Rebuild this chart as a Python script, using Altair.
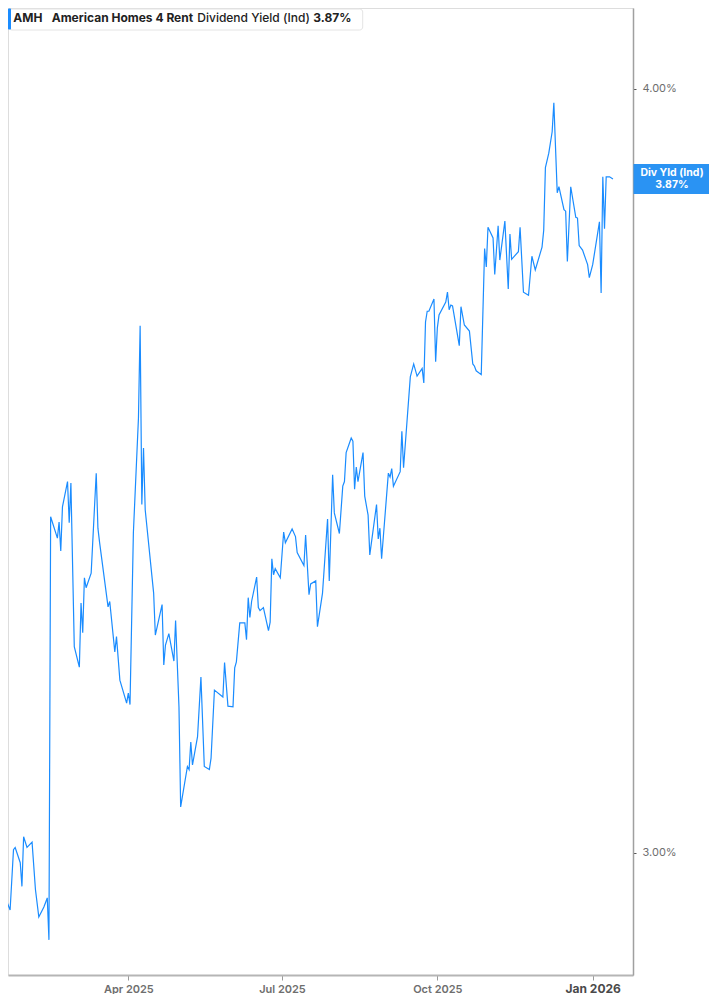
import altair as alt
import pandas as pd

# ---- data ----
dates = [
    "2025-01-15", "2025-01-17", "2025-01-21", "2025-01-23", "2025-01-24", "2025-01-27", "2025-01-28",
    "2025-01-29", "2025-01-31", "2025-02-03", "2025-02-05", "2025-02-07", "2025-02-10", "2025-02-11",
    "2025-02-12", "2025-02-13", "2025-02-14", "2025-02-18", "2025-02-19", "2025-02-20", "2025-02-21",
    "2025-02-24", "2025-02-25", "2025-02-26", "2025-02-28", "2025-03-03", "2025-03-04", "2025-03-05",
    "2025-03-06", "2025-03-07", "2025-03-10", "2025-03-13", "2025-03-14", "2025-03-15", "2025-03-20",
    "2025-03-21", "2025-03-24", "2025-03-25", "2025-03-27", "2025-03-31", "2025-04-01", "2025-04-02",
    "2025-04-04", "2025-04-07", "2025-04-08", "2025-04-09", "2025-04-10", "2025-04-11", "2025-04-16",
    "2025-04-17", "2025-04-21", "2025-04-22", "2025-04-23", "2025-04-25", "2025-04-28", "2025-04-29",
    "2025-05-01", "2025-05-02", "2025-05-06", "2025-05-07", "2025-05-08", "2025-05-09", "2025-05-12",
    "2025-05-14", "2025-05-16", "2025-05-19", "2025-05-20", "2025-05-22", "2025-05-27", "2025-05-28",
    "2025-05-30", "2025-06-02", "2025-06-03", "2025-06-04", "2025-06-06", "2025-06-09", "2025-06-10",
    "2025-06-11", "2025-06-12", "2025-06-13", "2025-06-16", "2025-06-17", "2025-06-18", "2025-06-20",
    "2025-06-23", "2025-06-24", "2025-06-25", "2025-06-26", "2025-06-27", "2025-06-30", "2025-07-02",
    "2025-07-03", "2025-07-07", "2025-07-09", "2025-07-10", "2025-07-14", "2025-07-15", "2025-07-17",
    "2025-07-18", "2025-07-21", "2025-07-22", "2025-07-25", "2025-07-28", "2025-07-29", "2025-07-31",
    "2025-08-01", "2025-08-04", "2025-08-06", "2025-08-07", "2025-08-08", "2025-08-11", "2025-08-12",
    "2025-08-13", "2025-08-14", "2025-08-15", "2025-08-18", "2025-08-19", "2025-08-21", "2025-08-22",
    "2025-08-26", "2025-08-27", "2025-08-28", "2025-08-29", "2025-09-02", "2025-09-03", "2025-09-04",
    "2025-09-05", "2025-09-09", "2025-09-10", "2025-09-11", "2025-09-15", "2025-09-17", "2025-09-19",
    "2025-09-22", "2025-09-23", "2025-09-24", "2025-09-25", "2025-09-26", "2025-09-29", "2025-09-30",
    "2025-10-01", "2025-10-02", "2025-10-06", "2025-10-07", "2025-10-08", "2025-10-09", "2025-10-10",
    "2025-10-14", "2025-10-15", "2025-10-17", "2025-10-20", "2025-10-22", "2025-10-23", "2025-10-24",
    "2025-10-27", "2025-10-29", "2025-10-30", "2025-10-31", "2025-11-03", "2025-11-04", "2025-11-06",
    "2025-11-07", "2025-11-10", "2025-11-12", "2025-11-13", "2025-11-14", "2025-11-18", "2025-11-19",
    "2025-11-21", "2025-11-24", "2025-11-26", "2025-11-28", "2025-12-02", "2025-12-03", "2025-12-04",
    "2025-12-06", "2025-12-08", "2025-12-09", "2025-12-11", "2025-12-12", "2025-12-15", "2025-12-16",
    "2025-12-17", "2025-12-19", "2025-12-22", "2025-12-23", "2025-12-24", "2025-12-26", "2025-12-29",
    "2025-12-30", "2026-01-01", "2026-01-05", "2026-01-06", "2026-01-07", "2026-01-08", "2026-01-09",
    "2026-01-11", "2026-01-13",
]
yields = [
    3.026, 2.948, 2.925, 3.004, 3.007, 2.987, 2.956,
    3.021, 3.007, 3.014, 2.952, 2.916, 2.929, 2.935,
    2.941, 2.886, 3.440, 3.412, 3.433, 3.395, 3.453,
    3.486, 3.432, 3.484, 3.270, 3.243, 3.327, 3.288,
    3.360, 3.347, 3.366, 3.497, 3.425, 3.406, 3.322,
    3.329, 3.263, 3.283, 3.226, 3.196, 3.209, 3.194,
    3.419, 3.569, 3.690, 3.456, 3.530, 3.449, 3.340,
    3.285, 3.325, 3.246, 3.272, 3.287, 3.251, 3.304,
    3.191, 3.060, 3.113, 3.109, 3.145, 3.115, 3.152,
    3.230, 3.113, 3.109, 3.124, 3.213, 3.204, 3.249,
    3.192, 3.191, 3.242, 3.250, 3.301, 3.301, 3.279,
    3.334, 3.308, 3.329, 3.361, 3.321, 3.317, 3.321,
    3.291, 3.302, 3.385, 3.364, 3.372, 3.360, 3.420,
    3.406, 3.424, 3.414, 3.393, 3.376, 3.416, 3.338,
    3.352, 3.356, 3.296, 3.340, 3.437, 3.356, 3.495,
    3.445, 3.418, 3.480, 3.486, 3.524, 3.543, 3.539,
    3.476, 3.505, 3.486, 3.524, 3.467, 3.442, 3.390,
    3.456, 3.411, 3.425, 3.385, 3.497, 3.492, 3.503,
    3.480, 3.499, 3.552, 3.504, 3.623, 3.640, 3.624,
    3.634, 3.615, 3.695, 3.709, 3.709, 3.725, 3.643,
    3.687, 3.704, 3.721, 3.734, 3.711, 3.717, 3.716,
    3.664, 3.715, 3.691, 3.683, 3.640, 3.637, 3.631,
    3.626, 3.791, 3.767, 3.819, 3.805, 3.757, 3.821,
    3.776, 3.827, 3.738, 3.810, 3.777, 3.787, 3.819,
    3.734, 3.730, 3.781, 3.763, 3.793, 3.815, 3.897,
    3.916, 3.944, 3.982, 3.864, 3.872, 3.842, 3.840,
    3.774, 3.872, 3.832, 3.831, 3.795, 3.789, 3.770,
    3.753, 3.770, 3.826, 3.733, 3.885, 3.817, 3.885,
    3.885, 3.882,
]

ticker = "AMH"
company = "American Homes 4 Rent"
metric = "Dividend Yield (Ind)"
current_label = "3.87%"
box_title = "Div Yld (Ind)"

y_ticks = [3.0, 4.0]
x_ticks = [(2025, 4), (2025, 7), (2025, 10), (2026, 1)]

LINE = "#1a8cff"
BOX = "#2a93f3"
FONT = "Inter"

df = pd.DataFrame({"date": dates, "yield": yields})
last = df.tail(1)
one = pd.DataFrame({"k": [0]})

W, H = 625, 967
Y_DOMAIN = [2.840, 4.106]
BOX_HALF = 15 * (Y_DOMAIN[1] - Y_DOMAIN[0]) / H   # half box height (15 px) in data units

x_scale = alt.Scale(
    type="utc",
    domain=[alt.DateTime(year=2025, month=1, date=19, hours=18, utc=True),
            alt.DateTime(year=2026, month=1, date=24, hours=21, utc=True)],
)
y_scale = alt.Scale(domain=Y_DOMAIN, nice=False, zero=False)

x_axis = alt.Axis(
    title=None,
    values=[alt.DateTime(year=y, month=m, date=1, utc=True) for y, m in x_ticks],
    labelExpr="utcFormat(datum.value, '%b %Y')",
    grid=False,
    domainColor="#b5b5b5",
    domainWidth=2,
    tickColor="#9a9a9a",
    tickSize=5,
    labelPadding=3,
    labelFont=FONT,
    labelFontSize={"condition": {"test": "utcmonth(datum.value) == 0", "value": 12}, "value": 11},
    labelFontWeight={"condition": {"test": "utcmonth(datum.value) == 0", "value": 700}, "value": 600},
    labelColor={"condition": {"test": "utcmonth(datum.value) == 0", "value": "#4a4a4a"}, "value": "#6e6e6e"},
    labelFlush=False,
)
y_axis = alt.Axis(
    title=None,
    orient="right",
    values=y_ticks,
    labelExpr="format(datum.value, '.2f') + '%'",
    grid=False,
    domainColor="#a0a0a0",
    domainWidth=1.5,
    tickColor="#555555",
    tickSize=3,
    labelPadding=6,
    labelFont=FONT,
    labelFontSize=11,
    labelColor="#6e6e6e",
)

line = alt.Chart(df).mark_line(color=LINE, strokeWidth=1.2, clip=True).encode(
    x=alt.X("date:T", scale=x_scale, axis=x_axis),
    y=alt.Y("yield:Q", scale=y_scale, axis=y_axis),
)

# current-value box on the right axis
box = alt.Chart(last).transform_calculate(
    y_top=f"datum['yield'] + {BOX_HALF}", y_bot=f"datum['yield'] - {BOX_HALF}"
).mark_rect(color=BOX).encode(
    x=alt.value(625.5), x2=alt.value(701),
    y=alt.Y("y_top:Q", scale=y_scale, axis=y_axis), y2="y_bot:Q",
)
box_t1 = alt.Chart(last).mark_text(
    color="white", font=FONT, fontSize=10.5, fontWeight="bold", dy=-6, align="center", baseline="middle"
).encode(x=alt.value(664), y="yield:Q", text=alt.value(box_title))
box_t2 = alt.Chart(last).mark_text(
    color="white", font=FONT, fontSize=10.5, fontWeight="bold", dy=6, align="center", baseline="middle"
).encode(x=alt.value(664), y="yield:Q", text=alt.value(current_label))

# header legend box
hdr_box = alt.Chart(one).mark_rect(fill="white", stroke="#e4e4e4", strokeWidth=1, cornerRadius=3).encode(
    x=alt.value(1), x2=alt.value(354.7), y=alt.value(1), y2=alt.value(22)
)
hdr_bar = alt.Chart(one).mark_rect(fill=LINE, cornerRadius=1).encode(
    x=alt.value(0), x2=alt.value(3), y=alt.value(0.5), y2=alt.value(21.5)
)


def hdr_text(txt, x, weight):
    return alt.Chart(one).mark_text(
        align="left", baseline="middle", font=FONT, fontSize=12, fontWeight=weight, color="#222222"
    ).encode(x=alt.value(x), y=alt.value(9.5), text=alt.value(txt))


chart = alt.layer(
    line, box, box_t1, box_t2, hdr_box, hdr_bar,
    hdr_text(ticker, 5.3, 700),
    hdr_text(company, 43.7, 700),
    hdr_text(metric, 189.3, 500),
    hdr_text(current_label, 305.3, 700),
).properties(
    width=W, height=H,
    autosize=alt.AutoSizeParams(type="none"),
    padding={"left": 0, "top": 0, "right": 76, "bottom": 19},
).configure_view(stroke=None).configure(background="white")

chart.save("out.html", embed_options={"renderer": "svg", "actions": False})
